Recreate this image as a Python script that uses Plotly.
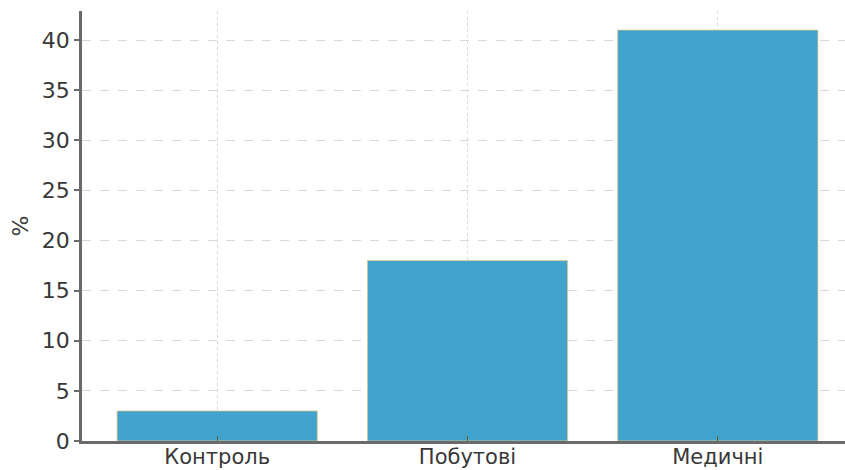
import plotly.graph_objects as go

categories = ["Контроль", "Побутові", "Медичні"]
values = [3, 18, 41]
y_ticks = [0, 5, 10, 15, 20, 25, 30, 35, 40]

fig = go.Figure(go.Bar(
    x=list(range(len(categories))), y=values, width=0.8,
    marker=dict(color="#3FA3CB", line=dict(color="#E9C98A", width=0.8)),
))

font = "DejaVu Sans"
txt = "#383838"
fig.update_layout(
    width=845, height=470,
    margin=dict(l=82, r=0, t=11, b=29),
    plot_bgcolor="white", paper_bgcolor="white",
    showlegend=False,
    font=dict(family=font, size=22, color=txt),
)
fig.update_xaxes(
    range=[-0.54, 2.508], tickvals=list(range(len(categories))), ticktext=categories,
    showline=True, linecolor="#6a6a6a", linewidth=2.5,
    showgrid=True, gridcolor="#D8D8D8", griddash="dot", gridwidth=1.2,
    ticks="inside", ticklen=5, tickcolor="#6b5a2a", tickwidth=1,
    tickfont=dict(family=font, size=21, color=txt), zeroline=False,
    automargin=False, ticklabelstandoff=-5,
)
fig.update_yaxes(
    range=[0, 42.9], tickvals=y_ticks,
    showline=True, linecolor="#6a6a6a", linewidth=2.5,
    showgrid=True, gridcolor="#D8D8D8", griddash="dash", gridwidth=1.2,
    ticks="outside", ticklen=5, tickcolor="#6a6a6a", tickwidth=1.5,
    tickfont=dict(family=font, size=22, color=txt), zeroline=False,
    title=dict(text="%", font=dict(family=font, size=22, color=txt), standoff=8),
    automargin=False,
)
fig.write_html("out.html")
